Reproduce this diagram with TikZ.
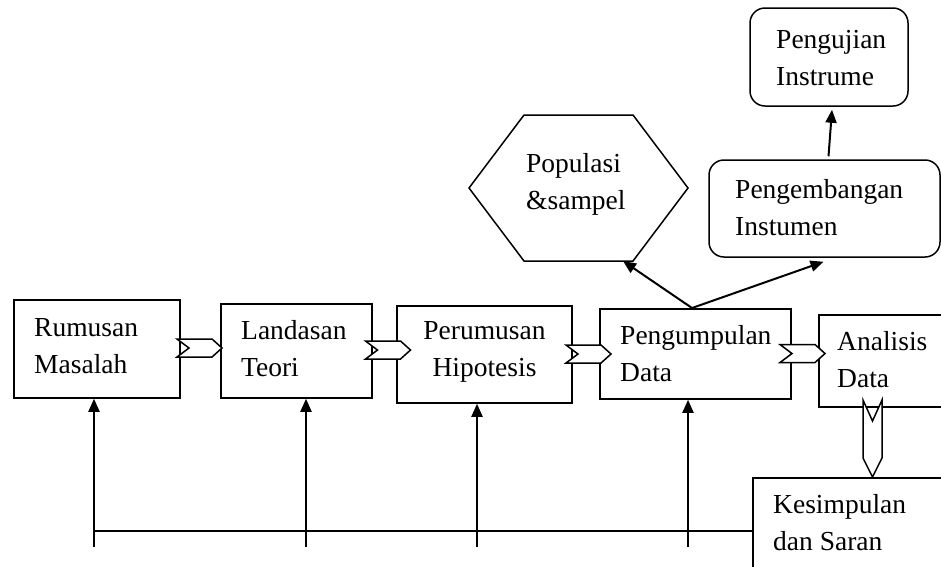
\documentclass[tikz,border=0pt]{standalone}
\usepackage{fontspec}
\setmainfont{Liberation Serif}
\usetikzlibrary{arrows.meta,calc}
\begin{document}
\begin{tikzpicture}[x=1pt,y=-1pt,
  box/.style={draw, line width=1.5pt, inner sep=0pt},
  rbox/.style={box, rounded corners=15pt},
  txt/.style={align=left, inner sep=0pt, font=\fontsize{27.5}{37}\selectfont},
  fb/.style={line width=2pt, -{Triangle[length=13pt,width=11pt]}},
  ln/.style={line width=2pt},
  chev/.style={draw, fill=white, line width=1.5pt, line join=miter},
  chevR/.pic={\path[chev] (-22.5,-9) -- (12.5,-9) -- (22.5,0) -- (12.5,9) -- (-22.5,9) -- (-10.5,0) -- cycle;}
]
\useasboundingbox (0,0) rectangle (941,566);
\clip (0,0) rectangle (941,566);

% main row
\node[box, minimum width=166pt, minimum height=98pt] (rm) at (97,349) {};
\node[txt, anchor=west] (rmt) at (34,346.5) {Rumusan\\Masalah};
\node[box, minimum width=151pt, minimum height=94pt] (lt) at (296.5,351) {};
\node[txt, anchor=west] (ltt) at (241,348.5) {Landasan\\Teori};
\node[box, minimum width=175pt, minimum height=97pt] (ph) at (484.5,354.5) {};
\node[txt, align=center] (pht) at (484.5,352) {Perumusan\\Hipotesis};
\node[box, minimum width=191pt, minimum height=90pt] (pd) at (695.5,354) {};
\node[txt, anchor=west] (pdt) at (620,353.5) {Pengumpulan\\Data};
\node[box, minimum width=150pt, minimum height=92pt, anchor=west] (ad) at (818,361) {};
\node[txt, anchor=west] (adt) at (837,359.5) {Analisis\\Data};
\node[box, minimum width=220pt, minimum height=120pt, anchor=north west] (ks) at (752,477) {};
\node[txt, anchor=west] (kst) at (773,522.5) {Kesimpulan\\dan Saran};

% upper part
\node[rbox, minimum width=231pt, minimum height=97pt] (pe) at (824.5,208.5) {};
\node[txt, anchor=west] (pet) at (735,207.5) {Pengembangan\\Instumen};
\node[rbox, minimum width=158pt, minimum height=98pt] (pi) at (829,57) {};
\node[txt, anchor=west] (pit) at (776,58.5) {Pengujian\\Instrume};
\draw[box] (469,188) -- (524,115) -- (633,115) -- (688,188) -- (633,261) -- (524,261) -- cycle;
\node[txt, anchor=west] (pop) at (526,184) {Populasi\\\&sampel};

% chevron connectors
\pic at (199.5,348) {chevR};
\pic at (388,350) {chevR};
\pic at (588.5,354) {chevR};
\pic at (802.5,353.5) {chevR};
\path[chev] (863,400) -- (872.5,421) -- (882,400) -- (882,458) -- (872.5,477) -- (863,458) -- cycle;

% feedback lines
\coordinate (f1) at (94,547);
\coordinate (f2) at (306,547);
\coordinate (f3) at (477,547);
\coordinate (f4) at (688,547);
\coordinate (hl) at (94,531);
\draw[ln] (hl) -- (hl -| ks.west);
\draw[fb] (f1) -- (f1 |- rm.south);
\draw[fb] (f2) -- (f2 |- lt.south);
\draw[fb] (f3) -- (f3 |- ph.south);
\draw[fb] (f4) -- (f4 |- pd.south);

% upward arrows
\coordinate (sp) at (692,308);
\coordinate (popb) at (623,261);
\draw[fb] (sp) -- (popb);
\draw[fb] (sp) -- ($(pe.south)+(-1,4)$);
\draw[fb] ($(pe.north)+(4,-3)$) -- ($(pi.south)+(3,3)$);
\end{tikzpicture}
\end{document}
